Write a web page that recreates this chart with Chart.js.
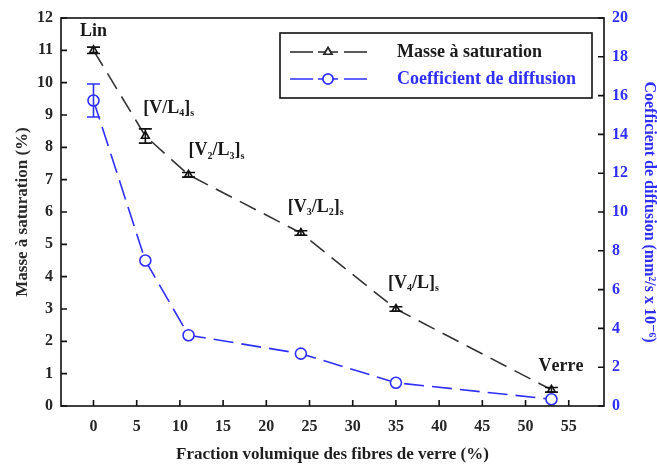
<!DOCTYPE html>
<html>
<head>
<meta charset="utf-8">
<script src="https://cdn.jsdelivr.net/npm/chart.js@4.4.1/dist/chart.umd.min.js"></script>
<style>
  body { margin: 0; background: #fff; }
</style>
</head>
<body>
<canvas id="chart" width="657" height="466"></canvas>
<script>
/* --------------- Data --------------------- */
const fraction = [0, 6, 11, 24, 35, 53];
const masse = [11.0, 8.35, 7.15, 5.35, 3.0, 0.5];
const masseErr = [0.1, 0.22, 0.07, 0.07, 0.07, 0.07];
const coeff = [15.75, 7.5, 3.65, 2.7, 1.2, 0.35];
const coeffErr = [0.85, 0, 0, 0, 0, 0];
const pointLabels = ["Lin", "[V/L_4]_s", "[V_2/L_3]_s", "[V_3/L_2]_s", "[V_4/L]_s", "Verre"];
const xTicks = [0, 5, 10, 15, 20, 25, 30, 35, 40, 45, 50, 55];

/* --------------- Styles --------------------- */
const FONT = "'Liberation Serif', 'DejaVu Serif', serif";
const DARK = "#262626";
const BLUE = "#2f2fff";
// label offsets from the point, in px: [dx, dy, align]
const labelPos = [[0, -19, "center"], [-2, -28, "left"], [0, -24, "left"], [-13, -26, "left"], [-8, -26, "left"], [-13, -23, "left"]];

function drawRich(ctx, str, x, y, size, align) {
  const parts = [];
  for (let i = 0; i < str.length; i++) {
    if (str[i] === "_") { parts.push({ t: str[i + 1], sub: true }); i++; }
    else parts.push({ t: str[i], sub: false });
  }
  const big = "bold " + size + "px " + FONT;
  const small = "bold " + Math.round(size * 0.55) + "px " + FONT;
  let w = 0;
  for (const p of parts) { ctx.font = p.sub ? small : big; w += ctx.measureText(p.t).width; }
  let cx = align === "center" ? x - w / 2 : x;
  ctx.textBaseline = "middle";
  ctx.textAlign = "left";
  for (const p of parts) {
    ctx.font = p.sub ? small : big;
    ctx.fillText(p.t, cx, p.sub ? y + size * 0.32 : y);
    cx += ctx.measureText(p.t).width;
  }
}

/* --------------- Decorations: frame, inward ticks, error bars, labels, legend --------------------- */
const decor = {
  id: "decor",
  afterDatasetsDraw(chart) {
    const ctx = chart.ctx, xs = chart.scales.x;
    ctx.save();
    ctx.lineWidth = 1.6;
    const bars = [[masse, masseErr, chart.scales.y, "#111"], [coeff, coeffErr, chart.scales.y1, BLUE]];
    for (const [vals, errs, sc, col] of bars) {
      ctx.strokeStyle = col;
      vals.forEach((v, i) => {
        if (!errs[i]) return;
        const px = xs.getPixelForValue(fraction[i]);
        const top = sc.getPixelForValue(v + errs[i]);
        const bot = sc.getPixelForValue(v - errs[i]);
        ctx.beginPath();
        ctx.moveTo(px, top); ctx.lineTo(px, bot);
        ctx.moveTo(px - 6.5, top); ctx.lineTo(px + 6.5, top);
        ctx.moveTo(px - 6.5, bot); ctx.lineTo(px + 6.5, bot);
        ctx.stroke();
      });
    }
    ctx.restore();
  },
  afterDraw(chart) {
    const ctx = chart.ctx, a = chart.chartArea;
    const xs = chart.scales.x, ys = chart.scales.y, y1 = chart.scales.y1;
    ctx.save();
    // frame
    ctx.strokeStyle = "#111";
    ctx.lineWidth = 1.6;
    ctx.strokeRect(a.left, a.top, a.right - a.left, a.bottom - a.top);
    // inward ticks
    ctx.beginPath();
    xs.ticks.forEach(t => { const p = xs.getPixelForValue(t.value); ctx.moveTo(p, a.bottom); ctx.lineTo(p, a.bottom - 6); });
    ys.ticks.forEach(t => { const p = ys.getPixelForValue(t.value); ctx.moveTo(a.left, p); ctx.lineTo(a.left + 6, p); });
    y1.ticks.forEach(t => { const p = y1.getPixelForValue(t.value); ctx.moveTo(a.right, p); ctx.lineTo(a.right - 6, p); });
    ctx.stroke();
    // point labels
    ctx.fillStyle = "#1a1a1a";
    pointLabels.forEach((s, i) => {
      const px = xs.getPixelForValue(fraction[i]);
      const py = ys.getPixelForValue(masse[i]);
      const [dx, dy, al] = labelPos[i];
      drawRich(ctx, s, px + dx, py + dy, 18, al);
    });
    // legend
    const lx = 280, ly = 33, lw = 312, lh = 65;
    ctx.strokeStyle = "#111";
    ctx.lineWidth = 1.6;
    ctx.strokeRect(lx, ly, lw, lh);
    const items = [
      { label: chart.data.datasets[0].label, color: DARK, text: "#1a1a1a", style: "triangle", r: 4.5, y: ly + 19 },
      { label: chart.data.datasets[1].label, color: BLUE, text: BLUE, style: "circle", r: 5, y: ly + 46 }
    ];
    for (const it of items) {
      ctx.strokeStyle = it.color;
      ctx.lineWidth = 1.6;
      ctx.beginPath();
      ctx.moveTo(lx + 10, it.y); ctx.lineTo(lx + 33, it.y);
      ctx.moveTo(lx + 38, it.y); ctx.lineTo(lx + 58, it.y);
      ctx.moveTo(lx + 64, it.y); ctx.lineTo(lx + 87, it.y);
      ctx.stroke();
      ctx.fillStyle = "#fff";
      Chart.helpers.drawPoint(ctx, { pointStyle: it.style, radius: it.r, borderWidth: 1.5 }, lx + 48, it.y);
      ctx.fill();
      ctx.stroke();
      ctx.fillStyle = it.text;
      ctx.font = "bold 18px " + FONT;
      ctx.textAlign = "left";
      ctx.textBaseline = "middle";
      ctx.fillText(it.label, lx + 117, it.y);
    }
    ctx.restore();
  }
};

/* --------------- Chart --------------------- */
const ctx = document.getElementById("chart");
new Chart(ctx, {
  type: "line",
  plugins: [decor],
  data: {
    datasets: [
      {
        label: "Masse à saturation",
        data: fraction.map((x, i) => ({ x, y: masse[i] })),
        yAxisID: "y",
        borderColor: "#333",
        borderWidth: 1.6,
        borderDash: [18, 9],
        pointStyle: "triangle",
        pointRadius: 4.5,
        pointBorderWidth: 1.6,
        pointBackgroundColor: "#fff",
        pointBorderColor: "#111",
      },
      {
        label: "Coefficient de diffusion",
        data: fraction.map((x, i) => ({ x, y: coeff[i] })),
        yAxisID: "y1",
        borderColor: BLUE,
        borderWidth: 1.6,
        borderDash: [20, 8],
        pointStyle: "circle",
        pointRadius: 5.5,
        pointBorderWidth: 1.6,
        pointBackgroundColor: "#fff",
        pointBorderColor: BLUE,
      },
    ],
  },
  options: {
    responsive: false,
    animation: false,
    devicePixelRatio: 1,
    layout: { padding: { left: 0, right: 0, top: 18, bottom: 0 } },
    plugins: { legend: { display: false }, tooltip: { enabled: false } },
    scales: {
      x: {
        type: "linear",
        min: -3.76,
        max: 59.08,
        afterBuildTicks: (s) => { s.ticks = xTicks.map(v => ({ value: v })); },
        afterFit: (s) => { s.height = 60; },
        ticks: { font: { family: FONT, size: 16, weight: "bold" }, color: DARK, padding: 11 },
        grid: { display: false, drawTicks: false },
        border: { display: false },
        title: { display: true, text: "Fraction volumique des fibres de verre (%)", font: { family: FONT, size: 17, weight: "bold" }, color: "#1e1e1e", padding: { top: 0, bottom: 1 } },
      },
      y: {
        position: "left",
        min: 0,
        max: 12,
        afterFit: (s) => { s.width = 61; },
        ticks: { stepSize: 1, font: { family: FONT, size: 16, weight: "bold" }, color: DARK, padding: 8 },
        grid: { display: false, drawTicks: false },
        border: { display: false },
        title: { display: true, text: "Masse à saturation (%)", font: { family: FONT, size: 17, weight: "bold" }, color: "#2b2b2b", padding: { top: 12, bottom: 0 } },
      },
      y1: {
        position: "right",
        min: 0,
        max: 20,
        afterFit: (s) => { s.width = 53; },
        ticks: { stepSize: 2, font: { family: FONT, size: 16, weight: "bold" }, color: BLUE, padding: 8 },
        grid: { display: false, drawTicks: false },
        border: { display: false },
        title: { display: true, text: "Coefficient de diffusion (mm²/s x 10⁻⁶)", font: { family: FONT, size: 16, weight: "bold", lineHeight: 1 }, color: BLUE, padding: { top: 0, bottom: 0 } },
      },
    },
  },
});
</script>
</body>
</html>
